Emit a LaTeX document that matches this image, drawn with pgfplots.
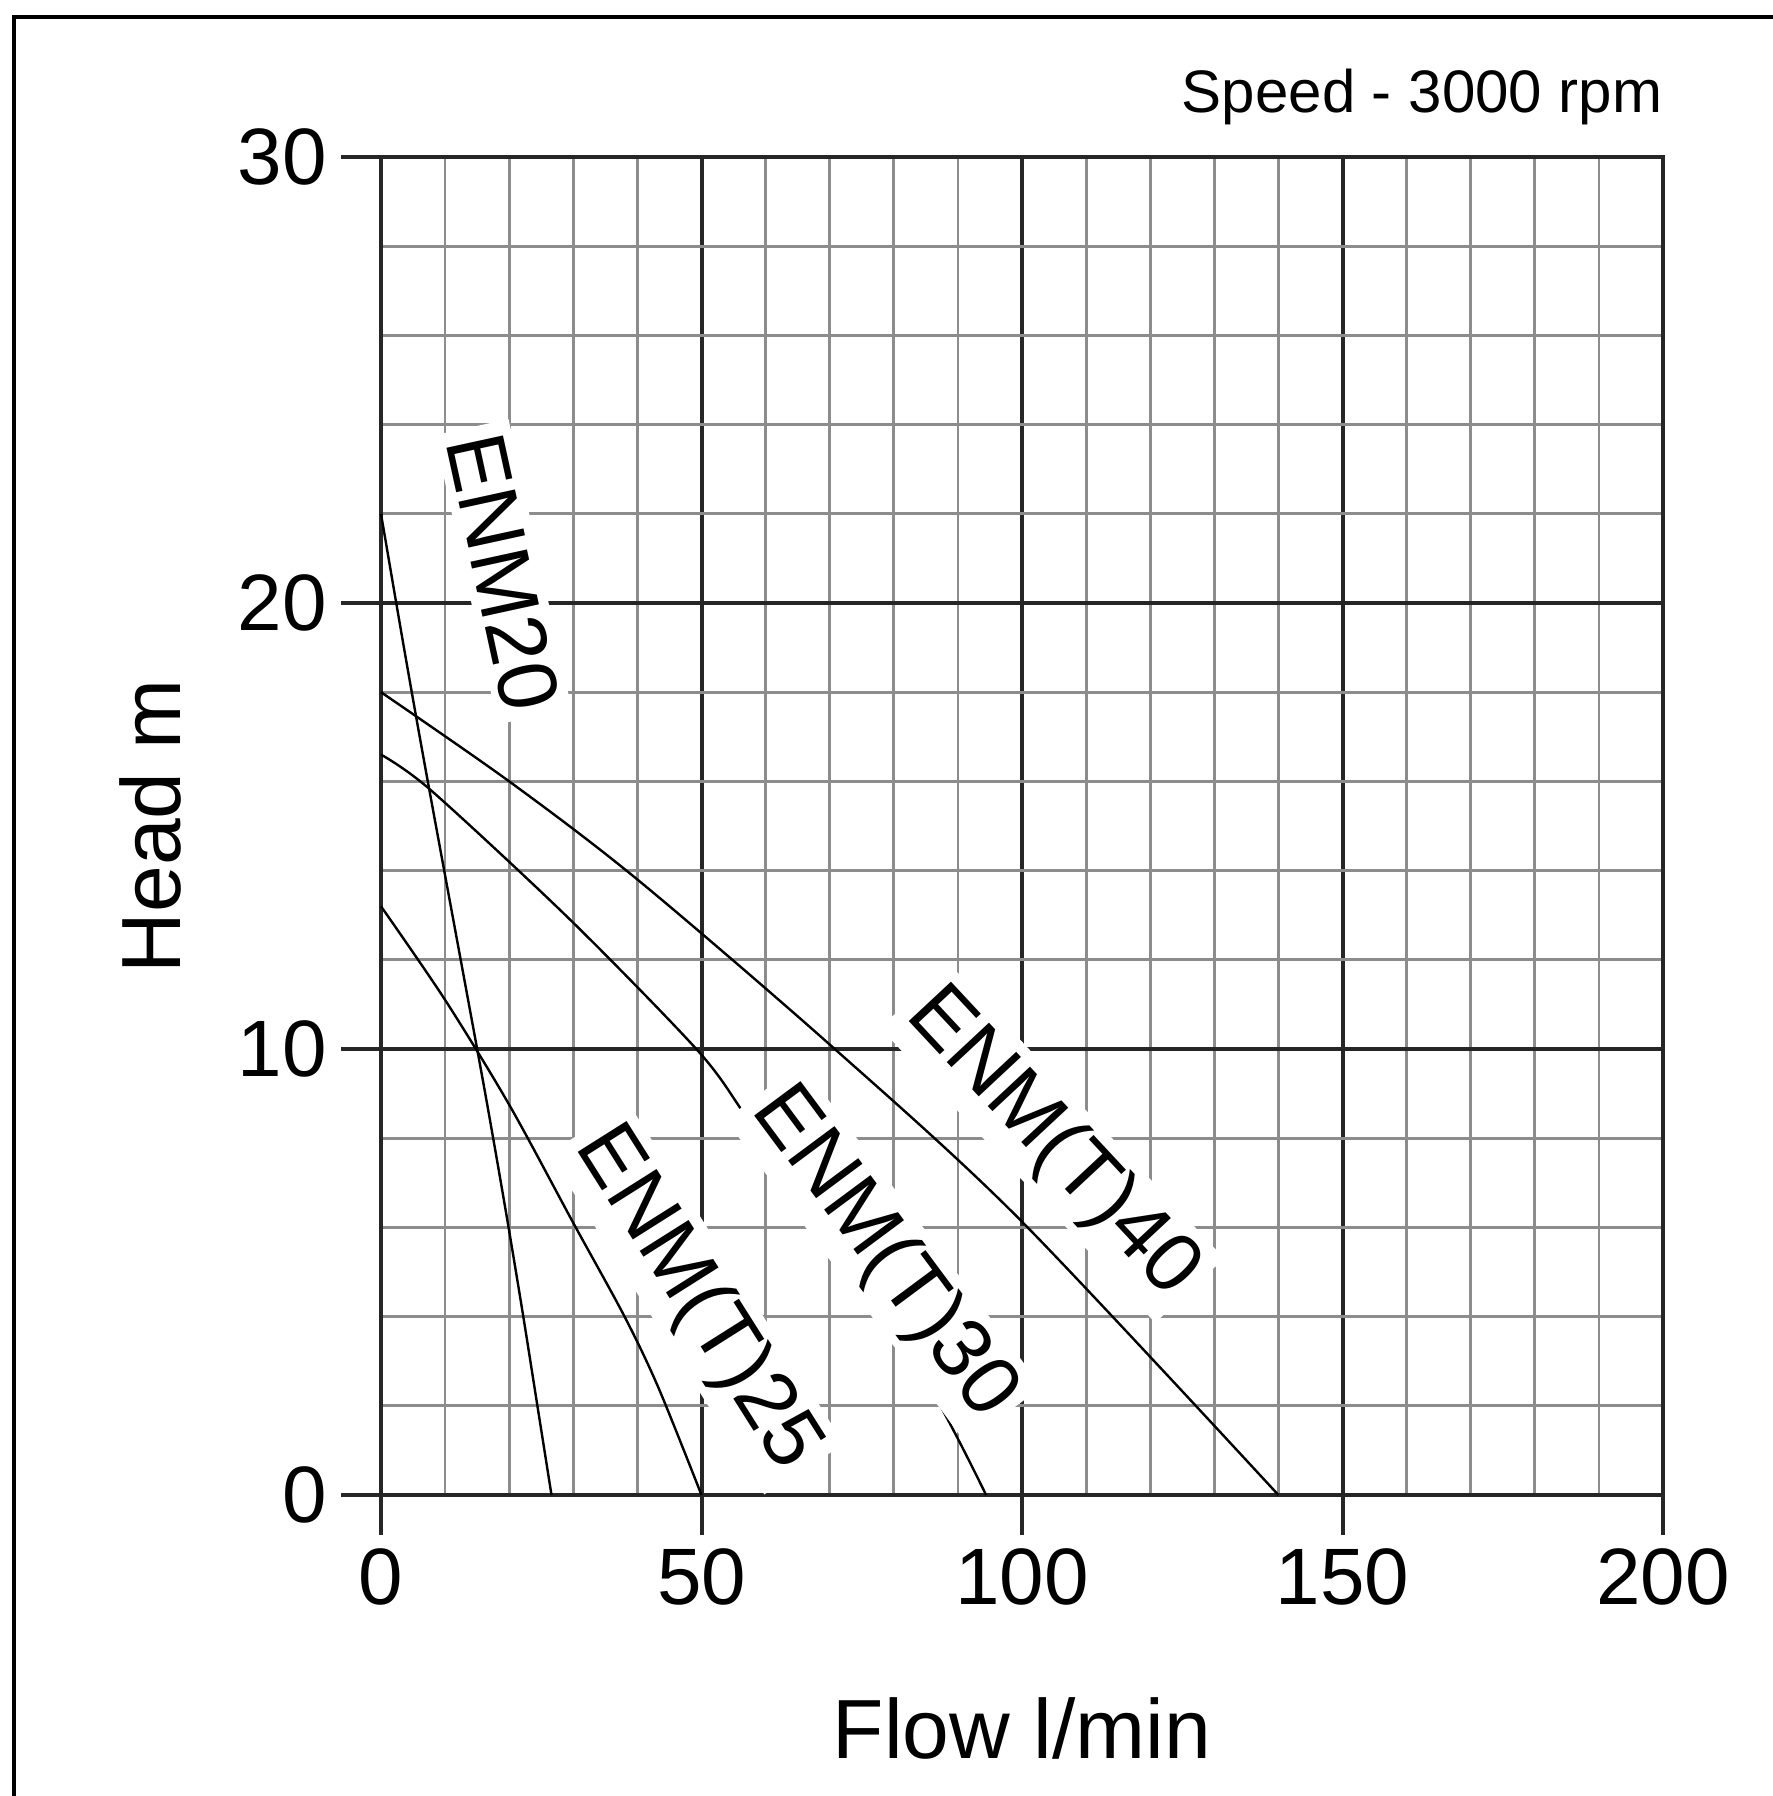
\documentclass[border=0pt]{standalone}
\usepackage{fontspec}
\setmainfont{Liberation Sans}
\usepackage{pgfplots}
\pgfplotsset{compat=1.18}

% pump curves, flow (l/min) vs head (m)
\pgfplotstableread{
x y
0 22
3.7 18.9
7.3 16
15 10
17.5 8
19.9 6
22.2 4
24.4 2
26.6 0
}\enmtwenty
\pgfplotstableread{
x y
0 13.2
10 11.1
20 8.75
30 6.1
38 4.0
43.3 2.4
50 0
}\enmtwentyfive
\pgfplotstableread{
x y
0 16.6
7.8 15.8
29.5 12.9
49.5 9.95
56.9 8.5
65 6.85
75 4.7
86.6 2.16
94.4 0
}\enmthirty
\pgfplotstableread{
x y
0 18
20 16
40 13.8
70 10.1
99.5 6.2
140 0
}\enmforty

\begin{document}
\begin{tikzpicture}
\useasboundingbox (-95.25pt,-75.25pt) rectangle (348pt,373.75pt);
\draw[line width=1pt] (-91.75pt,-80pt) -- (-91.75pt,369.5pt) -- (360pt,369.5pt);
\begin{axis}[
    at={(0,0)}, anchor=south west,
    scale only axis,
    width=320.5pt, height=334.5pt,
    xmin=0, xmax=200, ymin=0, ymax=30,
    clip=false,
    xtick={0,50,100,150,200},
    ytick={0,10,20,30},
    minor x tick num=4,
    minor y tick num=4,
    grid=both,
    major grid style={black!85, line width=1pt},
    minor grid style={black!45, line width=0.7pt},
    axis line style={black!85, line width=1pt},
    tick align=outside,
    tick pos=left,
    major tick length=10pt,
    minor tick length=0pt,
    tick style={black!85, line width=1pt},
    /pgf/number format/assume math mode=true,
    ticklabel style={font=\fontsize{20}{24}\selectfont},
    xlabel={Flow l/min},
    ylabel={Head m},
    xlabel style={at={(axis description cs:0.5,-0.1966)}, anchor=base,
        font=\fontsize{21}{25}\selectfont},
    ylabel style={at={(axis description cs:-0.156,0.5)}, anchor=base,
        font=\fontsize{21}{25}\selectfont},
]
\pgfplotsset{pumpcurve/.style={black, line width=0.6pt, no marks, smooth, tension=0.5}}
\addplot[pumpcurve] table[x=x, y=y] {\enmtwenty};
\addplot[pumpcurve] table[x=x, y=y] {\enmtwentyfive};
\addplot[pumpcurve] table[x=x, y=y] {\enmthirty};
\addplot[pumpcurve] table[x=x, y=y] {\enmforty};

\tikzset{curvelabel/.style={fill=white, inner sep=2pt,
    font=\fontsize{21}{25}\selectfont}}
\node[curvelabel, rotate=-77.7] at (axis cs:19.06,20.7) {ENM20};
\node[curvelabel, rotate=-57.7] at (axis cs:49.2,4.4) {ENM(T)25};
\node[curvelabel, rotate=-53.4] at (axis cs:78.4,5.42) {ENM(T)30};
\node[curvelabel, rotate=-47] at (axis cs:104.7,7.89) {ENM(T)40};

\node[anchor=base east, inner sep=0pt, font=\fontsize{15}{18}\selectfont]
    at (axis description cs:1,1.0336) {Speed - 3000 rpm};
\end{axis}
\end{tikzpicture}
\end{document}
